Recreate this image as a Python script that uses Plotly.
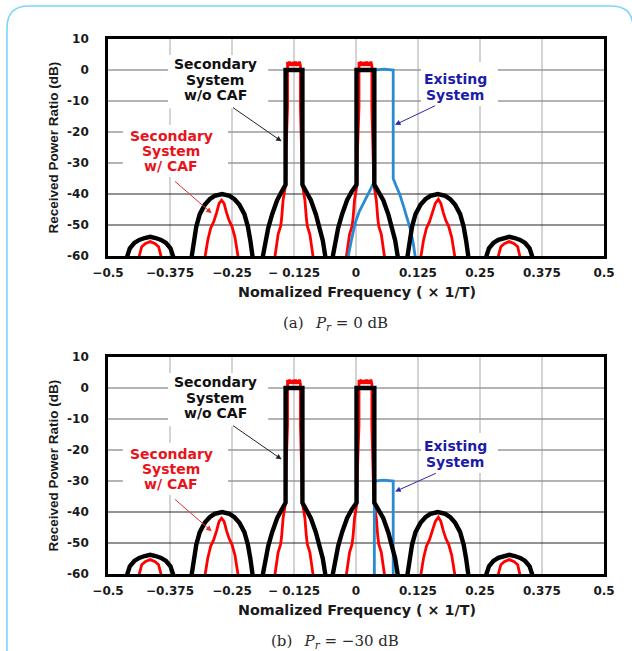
import plotly.graph_objects as go

# ---------------- data ----------------
# Secondary system without CAF (black)
BLACK_X = [-0.5,
           -0.463, -0.461, -0.456, -0.447, -0.437, -0.426, -0.415, -0.404, -0.393, -0.383, -0.374, -0.369, -0.367,
           -0.333, -0.331, -0.327, -0.322, -0.315, -0.305, -0.295, -0.285, -0.270, -0.255, -0.245, -0.235, -0.225, -0.218, -0.213, -0.209, -0.207,
           -0.190, -0.188, -0.183, -0.177, -0.169, -0.159, -0.150, -0.142, -0.142, -0.108, -0.108, -0.100, -0.091, -0.081, -0.073, -0.067, -0.062, -0.060,
           -0.049, -0.047, -0.042, -0.036, -0.028, -0.018, -0.009, 0.001, 0.001, 0.037, 0.037, 0.046, 0.055, 0.065, 0.073, 0.079, 0.084, 0.086,
           0.102, 0.104, 0.108, 0.113, 0.120, 0.130, 0.140, 0.150, 0.165, 0.180, 0.190, 0.200, 0.210, 0.217, 0.222, 0.226, 0.228,
           0.261, 0.263, 0.268, 0.277, 0.287, 0.298, 0.309, 0.320, 0.331, 0.341, 0.350, 0.355, 0.357,
           0.5]
BLACK_Y = [-62,
           -62, -60, -57.5, -55.8, -54.8, -54.2, -53.8, -54.2, -54.8, -55.8, -57.5, -60, -62,
           -62, -60, -55, -50.5, -46.5, -43.5, -41.7, -40.6, -40, -40.6, -41.7, -43.5, -46.5, -50.5, -55, -60, -62,
           -62, -60, -55, -51, -46.5, -42, -39.3, -37, 0, 0, -37, -39.3, -42, -46.5, -51, -55, -60, -62,
           -62, -60, -55, -51, -46.5, -42, -39.3, -37, 0, 0, -37, -39.3, -42, -46.5, -51, -55, -60, -62,
           -62, -60, -55, -50.5, -46.5, -43.5, -41.7, -40.6, -40, -40.6, -41.7, -43.5, -46.5, -50.5, -55, -60, -62,
           -62, -60, -57.5, -55.8, -54.8, -54.2, -53.8, -54.2, -54.8, -55.8, -57.5, -60, -62,
           -62]

# Secondary system with CAF (red); the lobe tops are noisy around +2 dB
RED_X = [-0.5,
         -0.440, -0.437, -0.432, -0.425, -0.419, -0.415, -0.411, -0.405, -0.398, -0.393, -0.390,
         -0.306, -0.304, -0.299, -0.293, -0.287, -0.281, -0.276, -0.271, -0.266, -0.261, -0.256, -0.250, -0.244, -0.238, -0.236,
         -0.165, -0.163, -0.157, -0.152, -0.150, -0.147, -0.145, -0.142, -0.141, -0.138,
         -0.138, -0.136, -0.134, -0.132, -0.130, -0.128, -0.126, -0.124, -0.122, -0.120, -0.118, -0.116, -0.114, -0.112,
         -0.112, -0.109, -0.108, -0.105, -0.103, -0.100, -0.098, -0.093, -0.087, -0.085,
         -0.021, -0.019, -0.013, -0.008, -0.006, -0.003, -0.001, 0.002, 0.003, 0.006,
         0.006, 0.008, 0.010, 0.012, 0.014, 0.016, 0.018, 0.020, 0.022, 0.024, 0.026, 0.028, 0.030, 0.032,
         0.032, 0.035, 0.036, 0.039, 0.041, 0.044, 0.046, 0.051, 0.057, 0.059,
         0.129, 0.131, 0.136, 0.142, 0.148, 0.154, 0.160, 0.166, 0.171, 0.176, 0.181, 0.187, 0.193, 0.199, 0.201,
         0.285, 0.287, 0.292, 0.299, 0.305, 0.309, 0.313, 0.319, 0.326, 0.331, 0.333,
         0.5]
RED_Y = [-62,
         -62, -60, -57, -56, -55.6, -55.3, -55.6, -56, -57, -60, -62,
         -62, -60, -55, -51, -49, -46, -43, -42, -43, -46, -48.5, -50.5, -54, -60, -62,
         -62, -60, -53, -50.5, -48, -42, -40, -37, -26, -12,
         2.6, 1.3, 2.7, 1.4, 2.5, 1.3, 2.6, 1.4, 2.7, 1.3, 2.5, 1.4, 2.7, 1.3,
         -12, -26, -37, -40, -42, -48, -50.5, -53, -60, -62,
         -62, -60, -53, -50.5, -48, -42, -40, -37, -26, -12,
         2.6, 1.3, 2.7, 1.4, 2.5, 1.3, 2.6, 1.4, 2.7, 1.3, 2.5, 1.4, 2.7, 1.3,
         -12, -26, -37, -40, -42, -48, -50.5, -53, -60, -62,
         -62, -60, -55, -51, -49, -46, -43, -41.7, -43, -46, -48.5, -50.5, -54, -60, -62,
         -62, -60, -57, -56, -55.6, -55.3, -55.6, -56, -57, -60, -62,
         -62]

# Existing system (blue), panel (a) Pr = 0 dB
BLUE_A_X = [-0.018, -0.016, -0.010, -0.002, 0.007, 0.015, 0.028, 0.037, 0.037, 0.056, 0.075,
            0.075, 0.080, 0.088, 0.095, 0.103, 0.109, 0.115, 0.119, 0.121]
BLUE_A_Y = [-62, -60, -55.5, -49.5, -45.5, -43, -39, -36, 0, 0.3, 0,
            -35, -37, -40, -43.5, -47.5, -51, -55.5, -60, -62]
# Existing system (blue), panel (b) Pr = -30 dB
BLUE_B_X = [0.037, 0.037, 0.056, 0.075, 0.075]
BLUE_B_Y = [-62, -30, -29.7, -30, -62]

X_TICKS = [-0.5, -0.375, -0.25, -0.125, 0, 0.125, 0.25, 0.375, 0.5]
X_TICKTEXT = ["\u22120.5", "\u22120.375", "\u22120.25", "\u2212 0.125", "0", "0.125", "0.25", "0.375", "0.5"]
Y_TICKS = [10, 0, -10, -20, -30, -40, -50, -60]
Y_TICKTEXT = ["10", "0", "-10", "-20", "-30", "-40", "-50", "-60"]
DARK_GRID_Y = [-40, -50]

CAPTIONS = ["(a)\u2002 <i>P<sub>r</sub></i> = 0 dB", "(b)\u2002 <i>P<sub>r</sub></i> = \u221230 dB"]
X_TITLE = "Nomalized Frequency ( \u00d7 1/T)"
Y_TITLE = "Received Power Ratio (dB)"

# ---------------- figure ----------------
W, H = 632, 651
BLACK = "#000000"
RED = "#ff0000"
BLUE = "#2a8bd2"
TXT_RED = "#e8141c"
TXT_BLUE = "#1c1ca8"

PANELS = [
    dict(xa="x", ya="y", xdom=[108 / W, 604 / W], ydom=[1 - 256 / H, 1 - 39 / H],
         bx=BLUE_A_X, by=BLUE_A_Y, cap_y=1 - 323 / H, xt_y=1 - 292 / H, yt_y=1 - 147.5 / H,
         exist_y=[-2.9, -8.1], exist_arrow=(0.0786, -17.7, 0.1625, -11.3), exist_box=(2.6, -11.6)),
    dict(xa="x2", ya="y2", xdom=[108 / W, 604 / W], ydom=[1 - 574 / H, 1 - 357 / H],
         bx=BLUE_B_X, by=BLUE_B_Y, cap_y=1 - 641 / H, xt_y=1 - 610 / H, yt_y=1 - 465.5 / H,
         exist_y=[-18.8, -24.0], exist_arrow=(0.079, -33.4, 0.164, -27.3), exist_box=(-14.5, -27.4)),
]

fig = go.Figure()
shapes = []
annotations = []
tickfont = dict(family="DejaVu Sans", size=12, color="#1a1a1a", weight="bold")
textfont = dict(family="DejaVu Sans", size=14, weight="bold")

for i, p in enumerate(PANELS):
    xa, ya = p["xa"], p["ya"]
    # draw order: red, blue, black
    fig.add_trace(go.Scatter(x=RED_X, y=RED_Y, mode="lines", line=dict(color=RED, width=2.8),
                             xaxis=xa, yaxis=ya, hoverinfo="skip"))
    fig.add_trace(go.Scatter(x=p["bx"], y=p["by"], mode="lines", line=dict(color=BLUE, width=2.8),
                             xaxis=xa, yaxis=ya, hoverinfo="skip"))
    fig.add_trace(go.Scatter(x=BLACK_X, y=BLACK_Y, mode="lines", line=dict(color=BLACK, width=4.4),
                             xaxis=xa, yaxis=ya, hoverinfo="skip"))

    xkey = "xaxis" if i == 0 else "xaxis2"
    ykey = "yaxis" if i == 0 else "yaxis2"
    fig.update_layout(**{
        xkey: dict(domain=p["xdom"], anchor=ya, range=[-0.5, 0.5], tickvals=X_TICKS, ticktext=X_TICKTEXT,
                   showgrid=False, zeroline=False, automargin=False,
                   showline=True, mirror=True, linecolor="black", linewidth=2.6,
                   ticks="", tickfont=tickfont, ticklabelstandoff=4, fixedrange=True),
        ykey: dict(domain=p["ydom"], anchor=xa, range=[-60, 10], tickvals=Y_TICKS, ticktext=Y_TICKTEXT,
                   showgrid=False, zeroline=False, automargin=False,
                   showline=True, mirror=True, linecolor="black", linewidth=2.6,
                   ticks="", tickfont=tickfont, ticklabelstandoff=14, fixedrange=True),
    })

    # vertical gridlines
    for gx in X_TICKS[1:-1]:
        shapes.append(dict(type="line", xref=xa, yref=f"{ya} domain", x0=gx, x1=gx, y0=0, y1=1,
                           layer="below", line=dict(color="#c8c8c8", width=1.6)))
    # horizontal gridlines
    for gy in Y_TICKS[1:-1]:
        dark = gy in DARK_GRID_Y
        shapes.append(dict(type="line", xref=f"{xa} domain", yref=ya, x0=0, x1=1, y0=gy, y1=gy,
                           layer="below",
                           line=dict(color="#262626" if dark else "#9a9a9a", width=1.2 if dark else 1.4)))
    # white text boxes (mask the gridlines)
    boxes = [(-0.379, -0.177, 4.8, -12.3), (-0.470, -0.258, -17.7, -34.5),
             (0.131, 0.286, p["exist_box"][0], p["exist_box"][1])]
    for (bx0, bx1, by0, by1) in boxes:
        shapes.append(dict(type="rect", xref=xa, yref=ya, x0=bx0, x1=bx1, y0=by0, y1=by1,
                           layer="below", fillcolor="white", line=dict(width=0)))

    # label texts
    for txt, yy in zip(["Secondary", "System", "w/o CAF"], [1.8, -3.2, -8.1]):
        annotations.append(dict(xref=xa, yref=ya, x=-0.284, y=yy, text=txt, showarrow=False,
                                xanchor="center", yanchor="middle",
                                font=dict(textfont, color="#111111")))
    for txt, yy in zip(["Secondary", "System", "w/ CAF"], [-21.3, -26.0, -31.0]):
        annotations.append(dict(xref=xa, yref=ya, x=-0.372, y=yy, text=txt, showarrow=False,
                                xanchor="center", yanchor="middle",
                                font=dict(textfont, color=TXT_RED)))
    for txt, yy in zip(["Existing", "System"], p["exist_y"]):
        annotations.append(dict(xref=xa, yref=ya, x=0.200, y=yy, text=txt, showarrow=False,
                                xanchor="center", yanchor="middle",
                                font=dict(textfont, color=TXT_BLUE)))
    # arrows
    arrows = [((-0.150, -23.0, -0.251, -11.8), "#222222"),
              ((-0.291, -46.2, -0.368, -35.5), "#e03030"),
              (p["exist_arrow"], "#2a2ab0")]
    for (hx, hy, tx, ty), col in arrows:
        annotations.append(dict(xref=xa, yref=ya, axref=xa, ayref=ya, x=hx, y=hy, ax=tx, ay=ty,
                                text="", showarrow=True, arrowhead=2, arrowsize=1.1, arrowwidth=1,
                                arrowcolor=col))
    # axis titles and caption
    annotations.append(dict(xref="paper", yref="paper", x=357 / W, y=p["xt_y"], text=X_TITLE,
                            xanchor="center", yanchor="middle",
                            showarrow=False, font=dict(family="DejaVu Sans", size=14.3, color="#1a1a1a",
                                                       weight="bold")))
    annotations.append(dict(xref="paper", yref="paper", x=53 / W, y=p["yt_y"], text=Y_TITLE, textangle=-90,
                            xanchor="center", yanchor="middle",
                            showarrow=False, font=dict(family="Liberation Sans", size=13.5, color="#1a1a1a",
                                                       weight="bold")))
    annotations.append(dict(xref="paper", yref="paper", x=335 / W, y=p["cap_y"], text=CAPTIONS[i],
                            xanchor="center", yanchor="middle",
                            showarrow=False, font=dict(family="DejaVu Serif", size=15, color="#2a2a2a")))

# rounded light-blue frame
rx, ry = 22 / W, 22 / H
lx, ty, rxe = 7 / W, 1 - 6 / H, 633 / W
frame = (f"M {lx},-0.05 L {lx},{ty - ry} Q {lx},{ty} {lx + rx},{ty} "
         f"L {rxe - rx},{ty} Q {rxe},{ty} {rxe},{ty - ry} L {rxe},-0.05")
shapes.append(dict(type="path", xref="paper", yref="paper", path=frame,
                   line=dict(color="#7ad6f6", width=1.6), layer="above"))

fig.update_layout(width=W, height=H, margin=dict(l=0, r=0, t=0, b=0, autoexpand=False),
                  paper_bgcolor="white", plot_bgcolor="white", showlegend=False,
                  shapes=shapes, annotations=annotations)

fig.write_html("out.html")
